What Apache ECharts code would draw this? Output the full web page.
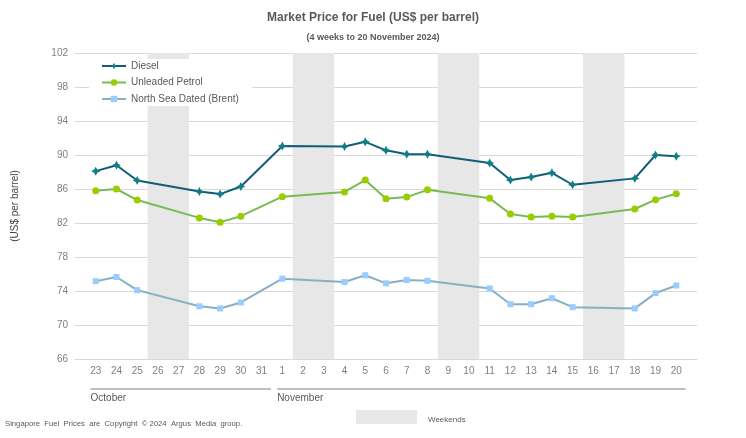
<!DOCTYPE html>
<html><head><meta charset="utf-8">
<script src="https://cdn.jsdelivr.net/npm/echarts@6/dist/echarts.min.js"></script>
<style>html,body{margin:0;padding:0;background:#fff}#c{width:746px;height:438px}</style>
</head><body><div id="c"></div>
<script>
var days = ['23','24','25','26','27','28','29','30','31','1','2','3','4','5','6','7','8','9','10','11','12','13','14','15','16','17','18','19','20'];
var months = [{name:'October', from:0, to:8}, {name:'November', from:9, to:28}];
var weekends = [[3,4],[10,11],[17,18],[24,25]];
var diesel = [88.1,88.8,87.0,null,null,85.7,85.4,86.3,null,91.05,null,null,91.0,91.55,90.55,90.1,90.1,null,null,89.05,87.05,87.4,87.9,86.5,null,null,87.25,90.0,89.85];
var petrol = [85.8,86.0,84.7,null,null,82.6,82.1,82.8,null,85.1,null,null,85.65,87.05,84.85,85.05,85.9,null,null,84.9,83.05,82.7,82.8,82.7,null,null,83.65,84.75,85.45];
var brent = [75.15,75.65,74.1,null,null,72.2,71.95,72.65,null,75.45,null,null,75.05,75.85,74.9,75.3,75.2,null,null,74.3,72.45,72.45,73.15,72.1,null,null,71.95,73.75,74.65];

var textCol = '#595959', axisCol = '#7f7f7f', font = 'Liberation Sans, Arial, sans-serif';
function pairs(a){ return a.map(function(v,i){ return [i, v==null ? '-' : v]; }); }
var chart = echarts.init(document.getElementById('c'));
var star = 'path://M0,-10 L3.5,-3.5 L10,0 L3.5,3.5 L0,10 L-3.5,3.5 L-10,0 L-3.5,-3.5 Z';
var option = {
  animation:false,
  textStyle:{fontFamily:font},
  title:[
    {text:'Market Price for Fuel (US$ per barrel)', left:'center', top:7, textStyle:{fontSize:12, fontWeight:'bold', color:textCol, fontFamily:font}},
    {text:'(4 weeks to 20 November 2024)', left:'center', top:28, textStyle:{fontSize:9, fontWeight:'bold', color:textCol, fontFamily:font}}
  ],
  grid:{left:75, right:49, top:53, bottom:79},
  legend:{orient:'vertical', left:89, top:59, backgroundColor:'#fff', padding:[1,13,1,12], itemGap:4.5, itemWidth:24, itemHeight:8,
    textStyle:{fontSize:10, lineHeight:12, color:textCol, fontFamily:font}, data:['Diesel','Unleaded Petrol','North Sea Dated (Brent)']},
  xAxis:{type:'value', min:-1, max:29, interval:1,
    axisLine:{show:true, lineStyle:{color:'#d9d9d9'}}, axisTick:{show:false}, splitLine:{show:false},
    axisLabel:{color:axisCol, fontSize:10, margin:7, fontFamily:font, formatter:function(v){ return days[v] || ''; }}},
  yAxis:{type:'value', min:66, max:102, interval:4, name:'(US$ per barrel)', nameLocation:'middle', nameRotate:90, nameGap:55,
    nameTextStyle:{fontSize:10, color:'#404040', fontFamily:font},
    axisLine:{show:false}, axisTick:{show:false},
    axisLabel:{color:axisCol, fontSize:10, margin:7, fontFamily:font},
    splitLine:{lineStyle:{color:'#d9d9d9'}}},
  series:[
    {name:'Diesel', type:'line', data:pairs(diesel), connectNulls:true, symbol:star, symbolSize:9, z:5,
      lineStyle:{color:'#115d78', width:2}, itemStyle:{color:'#0f7f87'},
      markArea:{silent:true, itemStyle:{color:'#e7e7e7'}, data:weekends.map(function(w){ return [{xAxis:w[0]-0.5},{xAxis:w[1]+0.5}]; })}},
    {name:'Unleaded Petrol', type:'line', data:pairs(petrol), connectNulls:true, symbol:'circle', symbolSize:7, z:4,
      lineStyle:{color:'#7ab956', width:2}, itemStyle:{color:'#9acd00'}},
    {name:'North Sea Dated (Brent)', type:'line', data:pairs(brent), connectNulls:true, symbol:'rect', symbolSize:6, z:3,
      lineStyle:{color:'#88b0c0', width:2}, itemStyle:{color:'#99ccff'}}
  ]
};
chart.setOption(option);
var g = [];
months.forEach(function(m){
  var x1 = chart.convertToPixel({xAxisIndex:0}, m.from-0.25);
  var x2 = chart.convertToPixel({xAxisIndex:0}, m.to+0.45);
  g.push({type:'line', shape:{x1:x1, y1:389, x2:x2, y2:389}, style:{stroke:'#7f7f7f', lineWidth:1}});
  g.push({type:'text', x:x1, y:393, style:{text:m.name, fill:textCol, fontSize:10, fontFamily:font}});
});
g.push({type:'text', x:5, y:420, style:{text:'Singapore  Fuel  Prices  are  Copyright  \u00a9 2024  Argus  Media  group.', fill:textCol, fontSize:7.7, fontFamily:font}});
g.push({type:'rect', shape:{x:356, y:410, width:61, height:14}, style:{fill:'#e7e7e7'}});
g.push({type:'text', x:428, y:416, style:{text:'Weekends', fill:textCol, fontSize:8, fontFamily:font}});
chart.setOption({graphic:g});
</script></body></html>
